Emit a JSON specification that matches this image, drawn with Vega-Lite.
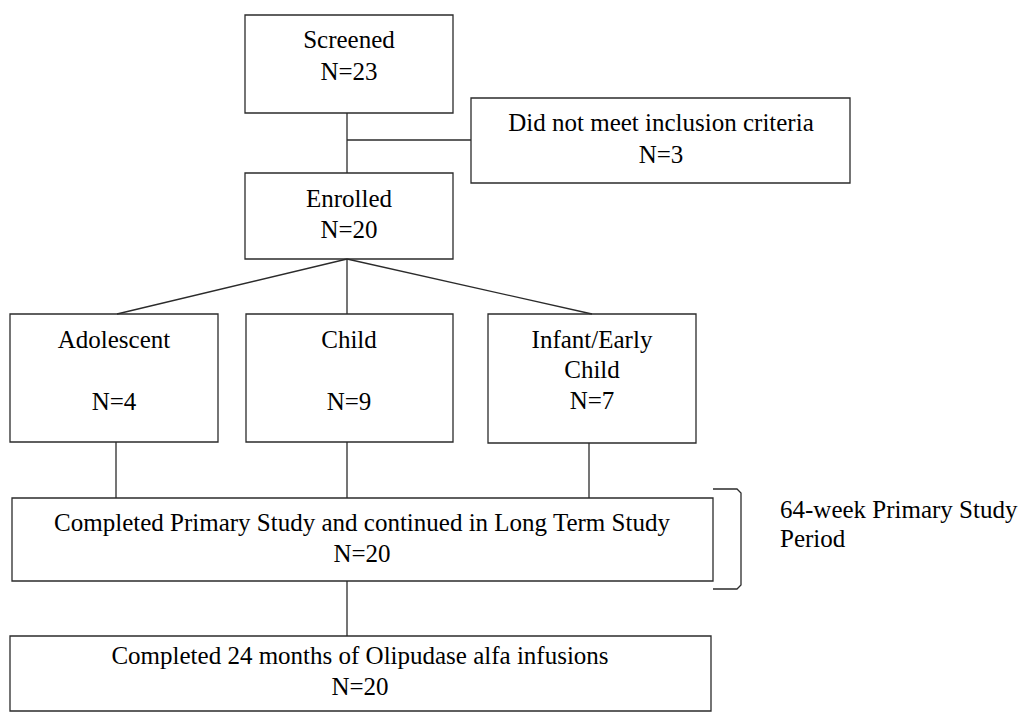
{
  "$schema": "https://vega.github.io/schema/vega-lite/v6.json",
  "width": 1033,
  "height": 712,
  "padding": 0,
  "autosize": {"type": "none"},
  "background": "white",
  "config": {"view": {"stroke": null}},
  "datasets": {
    "boxes": [
      {"id": "Screened", "x0": 245, "x1": 453, "y0": 15, "y1": 113},
      {"id": "Excluded", "x0": 471, "x1": 850, "y0": 98, "y1": 183},
      {"id": "Enrolled", "x0": 245, "x1": 453, "y0": 173, "y1": 259},
      {"id": "Adolescent", "x0": 10, "x1": 218, "y0": 314, "y1": 442},
      {"id": "Child", "x0": 246, "x1": 453, "y0": 314, "y1": 442},
      {"id": "Infant", "x0": 488, "x1": 696, "y0": 314, "y1": 443},
      {"id": "Primary", "x0": 12, "x1": 713, "y0": 498, "y1": 581},
      {"id": "LongTerm", "x0": 10, "x1": 711, "y0": 636, "y1": 711}
    ],
    "links": [
      {"x0": 347, "y0": 113, "x1": 347, "y1": 173},
      {"x0": 347, "y0": 140, "x1": 471, "y1": 140},
      {"x0": 347, "y0": 259, "x1": 117, "y1": 314},
      {"x0": 347, "y0": 259, "x1": 347, "y1": 314},
      {"x0": 347, "y0": 259, "x1": 592, "y1": 314},
      {"x0": 116, "y0": 442, "x1": 116, "y1": 498},
      {"x0": 347, "y0": 442, "x1": 347, "y1": 498},
      {"x0": 589, "y0": 443, "x1": 589, "y1": 498},
      {"x0": 347, "y0": 581, "x1": 347, "y1": 636}
    ],
    "bracket": [
      {"o": 1, "x": 713, "y": 489},
      {"o": 2, "x": 737, "y": 489},
      {"o": 3, "x": 741, "y": 493},
      {"o": 4, "x": 741, "y": 585},
      {"o": 5, "x": 737, "y": 589},
      {"o": 6, "x": 713, "y": 589}
    ],
    "labels": [
      {"x": 349, "y": 40, "t": "Screened"},
      {"x": 349, "y": 72, "t": "N=23"},
      {"x": 661, "y": 123, "t": "Did not meet inclusion criteria"},
      {"x": 661, "y": 155, "t": "N=3"},
      {"x": 349, "y": 199, "t": "Enrolled"},
      {"x": 349, "y": 230, "t": "N=20"},
      {"x": 114, "y": 340, "t": "Adolescent"},
      {"x": 114, "y": 402, "t": "N=4"},
      {"x": 349, "y": 340, "t": "Child"},
      {"x": 349, "y": 402, "t": "N=9"},
      {"x": 592, "y": 340, "t": "Infant/Early"},
      {"x": 592, "y": 370, "t": "Child"},
      {"x": 592, "y": 401, "t": "N=7"},
      {"x": 362, "y": 523, "t": "Completed Primary Study and continued in Long Term Study"},
      {"x": 362, "y": 554, "t": "N=20"},
      {"x": 360, "y": 656, "t": "Completed 24 months of Olipudase alfa infusions"},
      {"x": 360, "y": 687, "t": "N=20"}
    ],
    "notes": [
      {"x": 780, "y": 510, "t": "64-week Primary Study"},
      {"x": 780, "y": 539, "t": "Period"}
    ]
  },
  "layer": [
    {
      "data": {"name": "boxes"},
      "mark": {"type": "rect", "fill": "white", "stroke": "#2b2b2b", "strokeWidth": 1.3},
      "encoding": {
        "x": {"field": "x0", "type": "quantitative", "scale": {"domain": [0, 1033], "nice": false, "zero": false}, "axis": null},
        "x2": {"field": "x1"},
        "y": {"field": "y0", "type": "quantitative", "scale": {"domain": [0, 712], "nice": false, "zero": false, "reverse": true}, "axis": null},
        "y2": {"field": "y1"}
      }
    },
    {
      "data": {"name": "links"},
      "mark": {"type": "rule", "stroke": "#2b2b2b", "strokeWidth": 1.3},
      "encoding": {
        "x": {"field": "x0", "type": "quantitative"},
        "x2": {"field": "x1"},
        "y": {"field": "y0", "type": "quantitative"},
        "y2": {"field": "y1"}
      }
    },
    {
      "data": {"name": "bracket"},
      "mark": {"type": "line", "stroke": "#2b2b2b", "strokeWidth": 1.3},
      "encoding": {
        "x": {"field": "x", "type": "quantitative"},
        "y": {"field": "y", "type": "quantitative"},
        "order": {"field": "o", "type": "quantitative"}
      }
    },
    {
      "data": {"name": "labels"},
      "mark": {"type": "text", "font": "'Liberation Serif', 'Times New Roman', 'DejaVu Serif', serif", "fontSize": 25, "color": "black", "align": "center", "baseline": "middle"},
      "encoding": {
        "x": {"field": "x", "type": "quantitative"},
        "y": {"field": "y", "type": "quantitative"},
        "text": {"field": "t"}
      }
    },
    {
      "data": {"name": "notes"},
      "mark": {"type": "text", "font": "'Liberation Serif', 'Times New Roman', 'DejaVu Serif', serif", "fontSize": 25, "color": "black", "align": "left", "baseline": "middle"},
      "encoding": {
        "x": {"field": "x", "type": "quantitative"},
        "y": {"field": "y", "type": "quantitative"},
        "text": {"field": "t"}
      }
    }
  ]
}
